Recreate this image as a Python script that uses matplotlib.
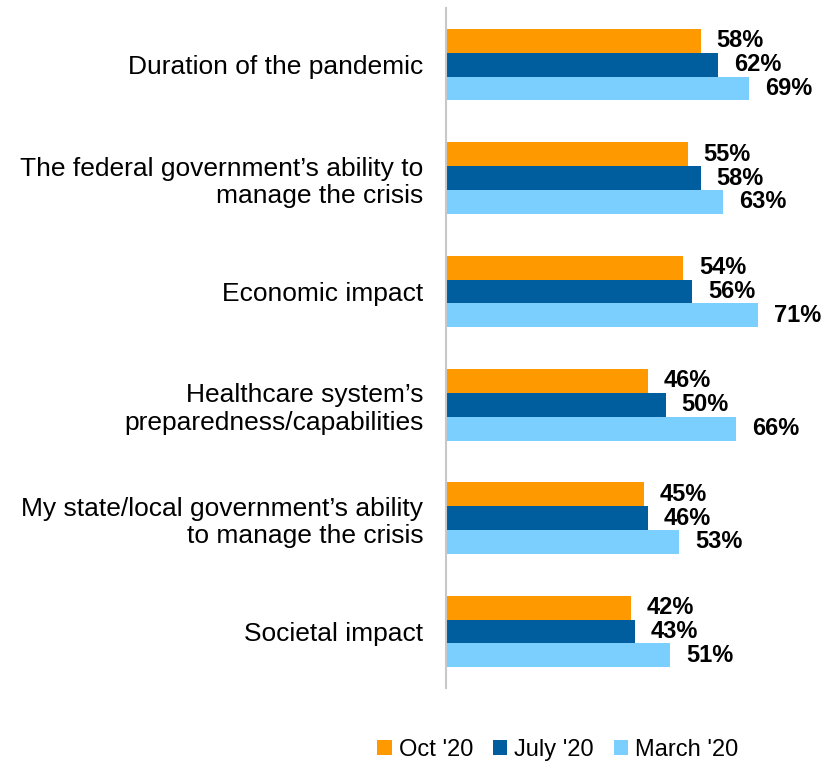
import matplotlib.pyplot as plt
import numpy as np

plt.rcParams['font.family'] = ['Liberation Sans', 'DejaVu Sans']

categories = [
    "Duration of the pandemic",
    "The federal government\u2019s ability to\nmanage the crisis",
    "Economic impact",
    "Healthcare system\u2019s\npreparedness/capabilities",
    "My state/local government\u2019s ability\nto manage the crisis",
    "Societal impact",
]
oct_20 = [58, 55, 54, 46, 45, 42]
july_20 = [62, 58, 56, 50, 46, 43]
march_20 = [69, 63, 71, 66, 53, 51]

series = [("Oct '20", oct_20, "#FF9900"),
          ("July '20", july_20, "#005E9E"),
          ("March '20", march_20, "#7ACFFF")]

fig = plt.figure(figsize=(8.34, 7.63), dpi=100)
ax = fig.add_axes([0.535, 0.098, 0.421, 0.8915])

y = np.arange(len(categories))
h = 0.21
for i, (name, vals, color) in enumerate(series):
    pos = y + (i - 1) * h
    bars = ax.barh(pos, vals, height=h, color=color, label=name)
    for b, v in zip(bars, vals):
        ax.annotate(f"{v}%", (b.get_width(), b.get_y() + h / 2),
                    xytext=(11.5, 0), textcoords="offset points",
                    va="center", ha="left", fontsize=17, fontweight="bold")

ax.set_yticks(y)
ax.set_yticklabels(categories, fontsize=19, linespacing=1.2)
ax.set_ylim(len(categories) - 0.5, -0.5)
ax.set_xlim(0, 80)
ax.tick_params(left=False, bottom=False, labelbottom=False, pad=13)
for s in ["top", "right", "bottom"]:
    ax.spines[s].set_visible(False)
ax.spines["left"].set_color("#C8C8C8")
ax.spines["left"].set_linewidth(1.5)

fig.legend(loc="center", bbox_to_anchor=(0.669, 0.017), ncol=3, frameon=False,
           fontsize=17, handlelength=0.6, handleheight=0.6, handletextpad=0.3,
           columnspacing=0.85)

fig.savefig("out.png", dpi=100)
